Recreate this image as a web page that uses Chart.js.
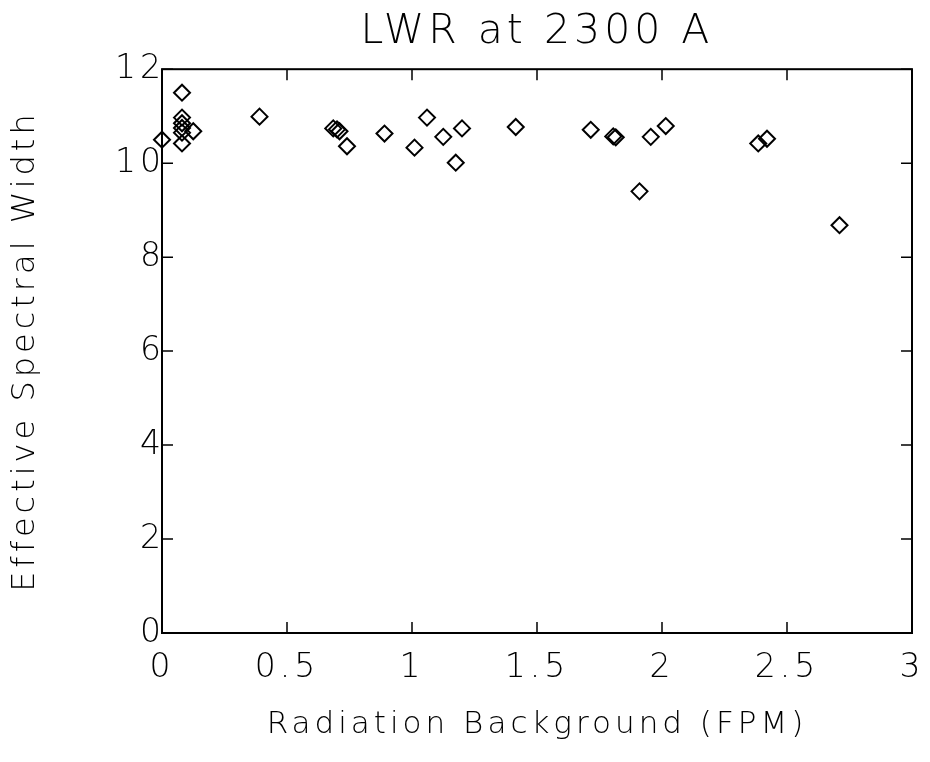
<!DOCTYPE html>
<html>
<head>
<meta charset="utf-8">
<script src="https://cdn.jsdelivr.net/npm/chart.js@4.4.1/dist/chart.umd.min.js"></script>
<style>
  html, body { margin: 0; padding: 0; background: #fff; }
  #wrap { width: 930px; height: 762px; }
</style>
</head>
<body>
<div id="wrap"><canvas id="c" width="930" height="762"></canvas></div>
<script>
const radiationBackground = [0.00, 0.08, 0.08, 0.08, 0.08, 0.08, 0.08, 0.125, 0.39, 0.685, 0.70, 0.71, 0.74, 0.89, 1.01, 1.06, 1.125, 1.175, 1.20, 1.415, 1.715, 1.805, 1.815, 1.91, 1.955, 2.015, 2.385, 2.42, 2.71];
const spectralWidth = [10.50, 11.50, 10.97, 10.85, 10.75, 10.65, 10.42, 10.68, 10.99, 10.74, 10.72, 10.68, 10.36, 10.63, 10.33, 10.97, 10.56, 10.01, 10.74, 10.77, 10.71, 10.57, 10.55, 9.40, 10.56, 10.79, 10.42, 10.52, 8.68];
const xTicks = [0, 0.5, 1, 1.5, 2, 2.5, 3];
const yTicks = [0, 2, 4, 6, 8, 10, 12];
const chartTitle = 'LWR at 2300 A';
const xTitle = 'Radiation Background (FPM)';
const yTitle = 'Effective Spectral Width';

const FONT = "'DejaVu Sans', sans-serif";

const points = radiationBackground.map((x, i) => ({ x: x, y: spectralWidth[i] }));

const canvas = document.getElementById('c');

const spacing = {
  id: 'spacing',
  beforeLayout(chart) { chart.ctx.letterSpacing = '4px'; },
  beforeDraw(chart) { chart.ctx.letterSpacing = '4px'; }
};

const frameTicks = {
  id: 'frameTicks',
  afterDatasetsDraw(chart) {
    const { ctx, chartArea: a, scales: { x, y } } = chart;
    ctx.save();
    ctx.strokeStyle = '#000';
    ctx.lineWidth = 2;
    ctx.strokeRect(a.left, a.top, a.right - a.left, a.bottom - a.top);
    ctx.lineWidth = 1.5;
    const L = 11;
    xTicks.forEach(v => {
      const px = x.getPixelForValue(v);
      ctx.beginPath();
      ctx.moveTo(px, a.bottom); ctx.lineTo(px, a.bottom - L);
      ctx.moveTo(px, a.top); ctx.lineTo(px, a.top + L);
      ctx.stroke();
    });
    yTicks.forEach(v => {
      const py = y.getPixelForValue(v);
      ctx.beginPath();
      ctx.moveTo(a.left, py); ctx.lineTo(a.left + L, py);
      ctx.moveTo(a.right, py); ctx.lineTo(a.right - L, py);
      ctx.stroke();
    });
    ctx.restore();
  }
};

new Chart(canvas, {
  type: 'scatter',
  data: {
    datasets: [{
      data: points,
      pointStyle: 'rectRot',
      pointRadius: 8,
      pointHoverRadius: 8,
      borderColor: '#000',
      backgroundColor: 'rgba(255,255,255,0)',
      borderWidth: 2,
      clip: false
    }]
  },
  options: {
    responsive: false,
    animation: false,
    events: [],
    layout: { padding: { left: 0, right: 18, top: 0, bottom: 0 } },
    plugins: {
      legend: { display: false },
      tooltip: { enabled: false },
      title: {
        display: true,
        text: chartTitle,
        fullSize: false,
        color: '#000',
        font: { family: FONT, size: 41, weight: 200, lineHeight: 1.2 },
        padding: { top: 8, bottom: 12 }
      }
    },
    scales: {
      x: {
        type: 'linear',
        min: 0, max: 3,
        afterBuildTicks: s => { s.ticks = xTicks.map(v => ({ value: v })); },
        afterFit: s => { s.height = 129; s.paddingRight = 0; s.paddingLeft = 0; },
        grid: { display: false, drawTicks: false },
        border: { display: false },
        ticks: {
          color: '#000',
          padding: 16,
          font: { family: FONT, size: 33, weight: 200 },
          callback: v => String(v)
        },
        title: {
          display: true,
          text: xTitle,
          color: '#000',
          font: { family: FONT, size: 31, weight: 200 },
          padding: { top: 0, bottom: 18 }
        }
      },
      y: {
        type: 'linear',
        min: 0, max: 12,
        afterBuildTicks: s => { s.ticks = yTicks.map(v => ({ value: v })); },
        afterFit: s => { s.width = 162; },
        grid: { display: false, drawTicks: false },
        border: { display: false },
        ticks: {
          color: '#000',
          padding: -3,
          font: { family: FONT, size: 33, weight: 200 },
          callback: v => String(v)
        },
        title: {
          display: true,
          text: yTitle,
          color: '#000',
          font: { family: FONT, size: 32, weight: 200 },
          padding: { top: 6, bottom: 0 }
        }
      }
    }
  },
  plugins: [spacing, frameTicks]
});
</script>
</body>
</html>
